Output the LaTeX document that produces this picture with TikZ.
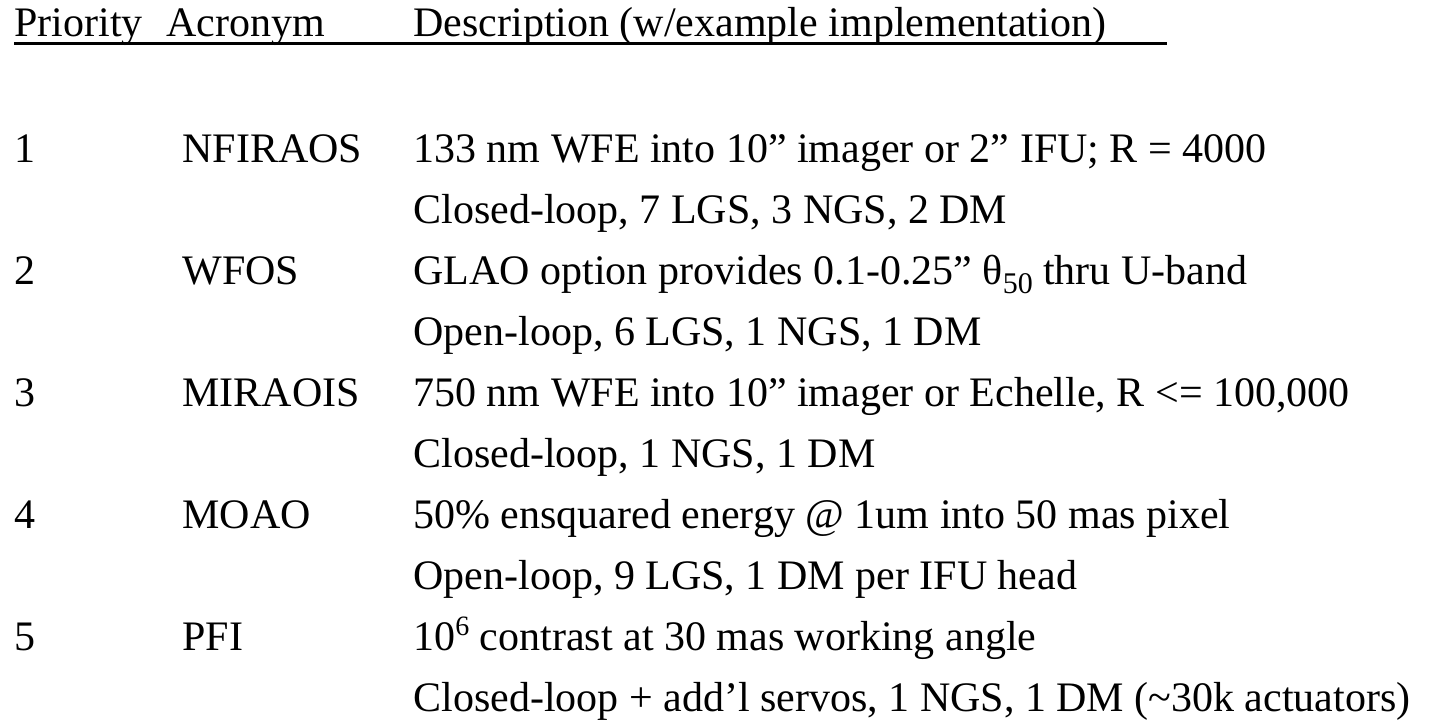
\documentclass[tikz,border=0pt]{standalone}
\usepackage{fontspec}
\setmainfont{Liberation Serif}
\newcommand{\lowsub}[1]{\raisebox{-0.22em}{\fontsize{15bp}{15bp}\selectfont #1}}
\newcommand{\highsup}[1]{\raisebox{0.36em}{\fontsize{14bp}{14bp}\selectfont #1}}
\begin{document}
\begin{tikzpicture}[x=0.5bp,y=-0.5bp,font=\fontsize{21bp}{25bp}\selectfont,
	txt/.style={anchor=base west,inner sep=0pt}]
	\def\colp{14};
	\def\cola{182};
	\def\cold{413};
	\def\rowa{162};
	\def\dy{61.1};
	\useasboundingbox (0,0) rectangle (1443,725);
	% header
	\node[txt] (hprio) at (\colp,36) {Priority};
	\node[txt] (hacro) at (166,36) {Acronym};
	\node[txt] (hdesc) at (\cold,36) {Description (w/example implementation)};
	\coordinate (hend) at (1167,43);
	\draw[line width=1.5bp] (hprio.base west |- hend) -- (hend);
	% rows
	\node[txt] (p1) at (\colp,\rowa) {1};
	\node[txt] (a1) at (\cola,\rowa) {NFIRAOS};
	\node[txt] (d1) at (\cold,\rowa) {133 nm WFE into 10” imager or 2” IFU; R = 4000};
	\node[txt] (e1) at (\cold,\rowa+\dy) {Closed-loop, 7 LGS, 3 NGS, 2 DM};
	\node[txt] (p2) at (\colp,\rowa+2*\dy) {2};
	\node[txt] (a2) at (\cola,\rowa+2*\dy) {WFOS};
	\node[txt] (d2) at (\cold,\rowa+2*\dy) {GLAO option provides 0.1-0.25” θ\lowsub{50} thru U-band};
	\node[txt] (e2) at (\cold,\rowa+3*\dy) {Open-loop, 6 LGS, 1 NGS, 1 DM};
	\node[txt] (p3) at (\colp,\rowa+4*\dy) {3};
	\node[txt] (a3) at (\cola,\rowa+4*\dy) {MIRAOIS};
	\node[txt] (d3) at (\cold,\rowa+4*\dy) {750 nm WFE into 10” imager or Echelle, R <= 100,000};
	\node[txt] (e3) at (\cold,\rowa+5*\dy) {Closed-loop, 1 NGS, 1 DM};
	\node[txt] (p4) at (\colp,\rowa+6*\dy) {4};
	\node[txt] (a4) at (\cola,\rowa+6*\dy) {MOAO};
	\node[txt] (d4) at (\cold,\rowa+6*\dy) {50\% ensquared energy @ 1um into 50 mas pixel};
	\node[txt] (e4) at (\cold,\rowa+7*\dy) {Open-loop, 9 LGS, 1 DM per IFU head};
	\node[txt] (p5) at (\colp,\rowa+8*\dy) {5};
	\node[txt] (a5) at (\cola,\rowa+8*\dy) {PFI};
	\node[txt] (d5) at (\cold,\rowa+8*\dy) {10\highsup{6} contrast at 30 mas working angle};
	\node[txt] (e5) at (\cold,\rowa+9*\dy) {Closed-loop + add’l servos, 1 NGS, 1 DM (\textasciitilde30k actuators)};
\end{tikzpicture}
\end{document}
